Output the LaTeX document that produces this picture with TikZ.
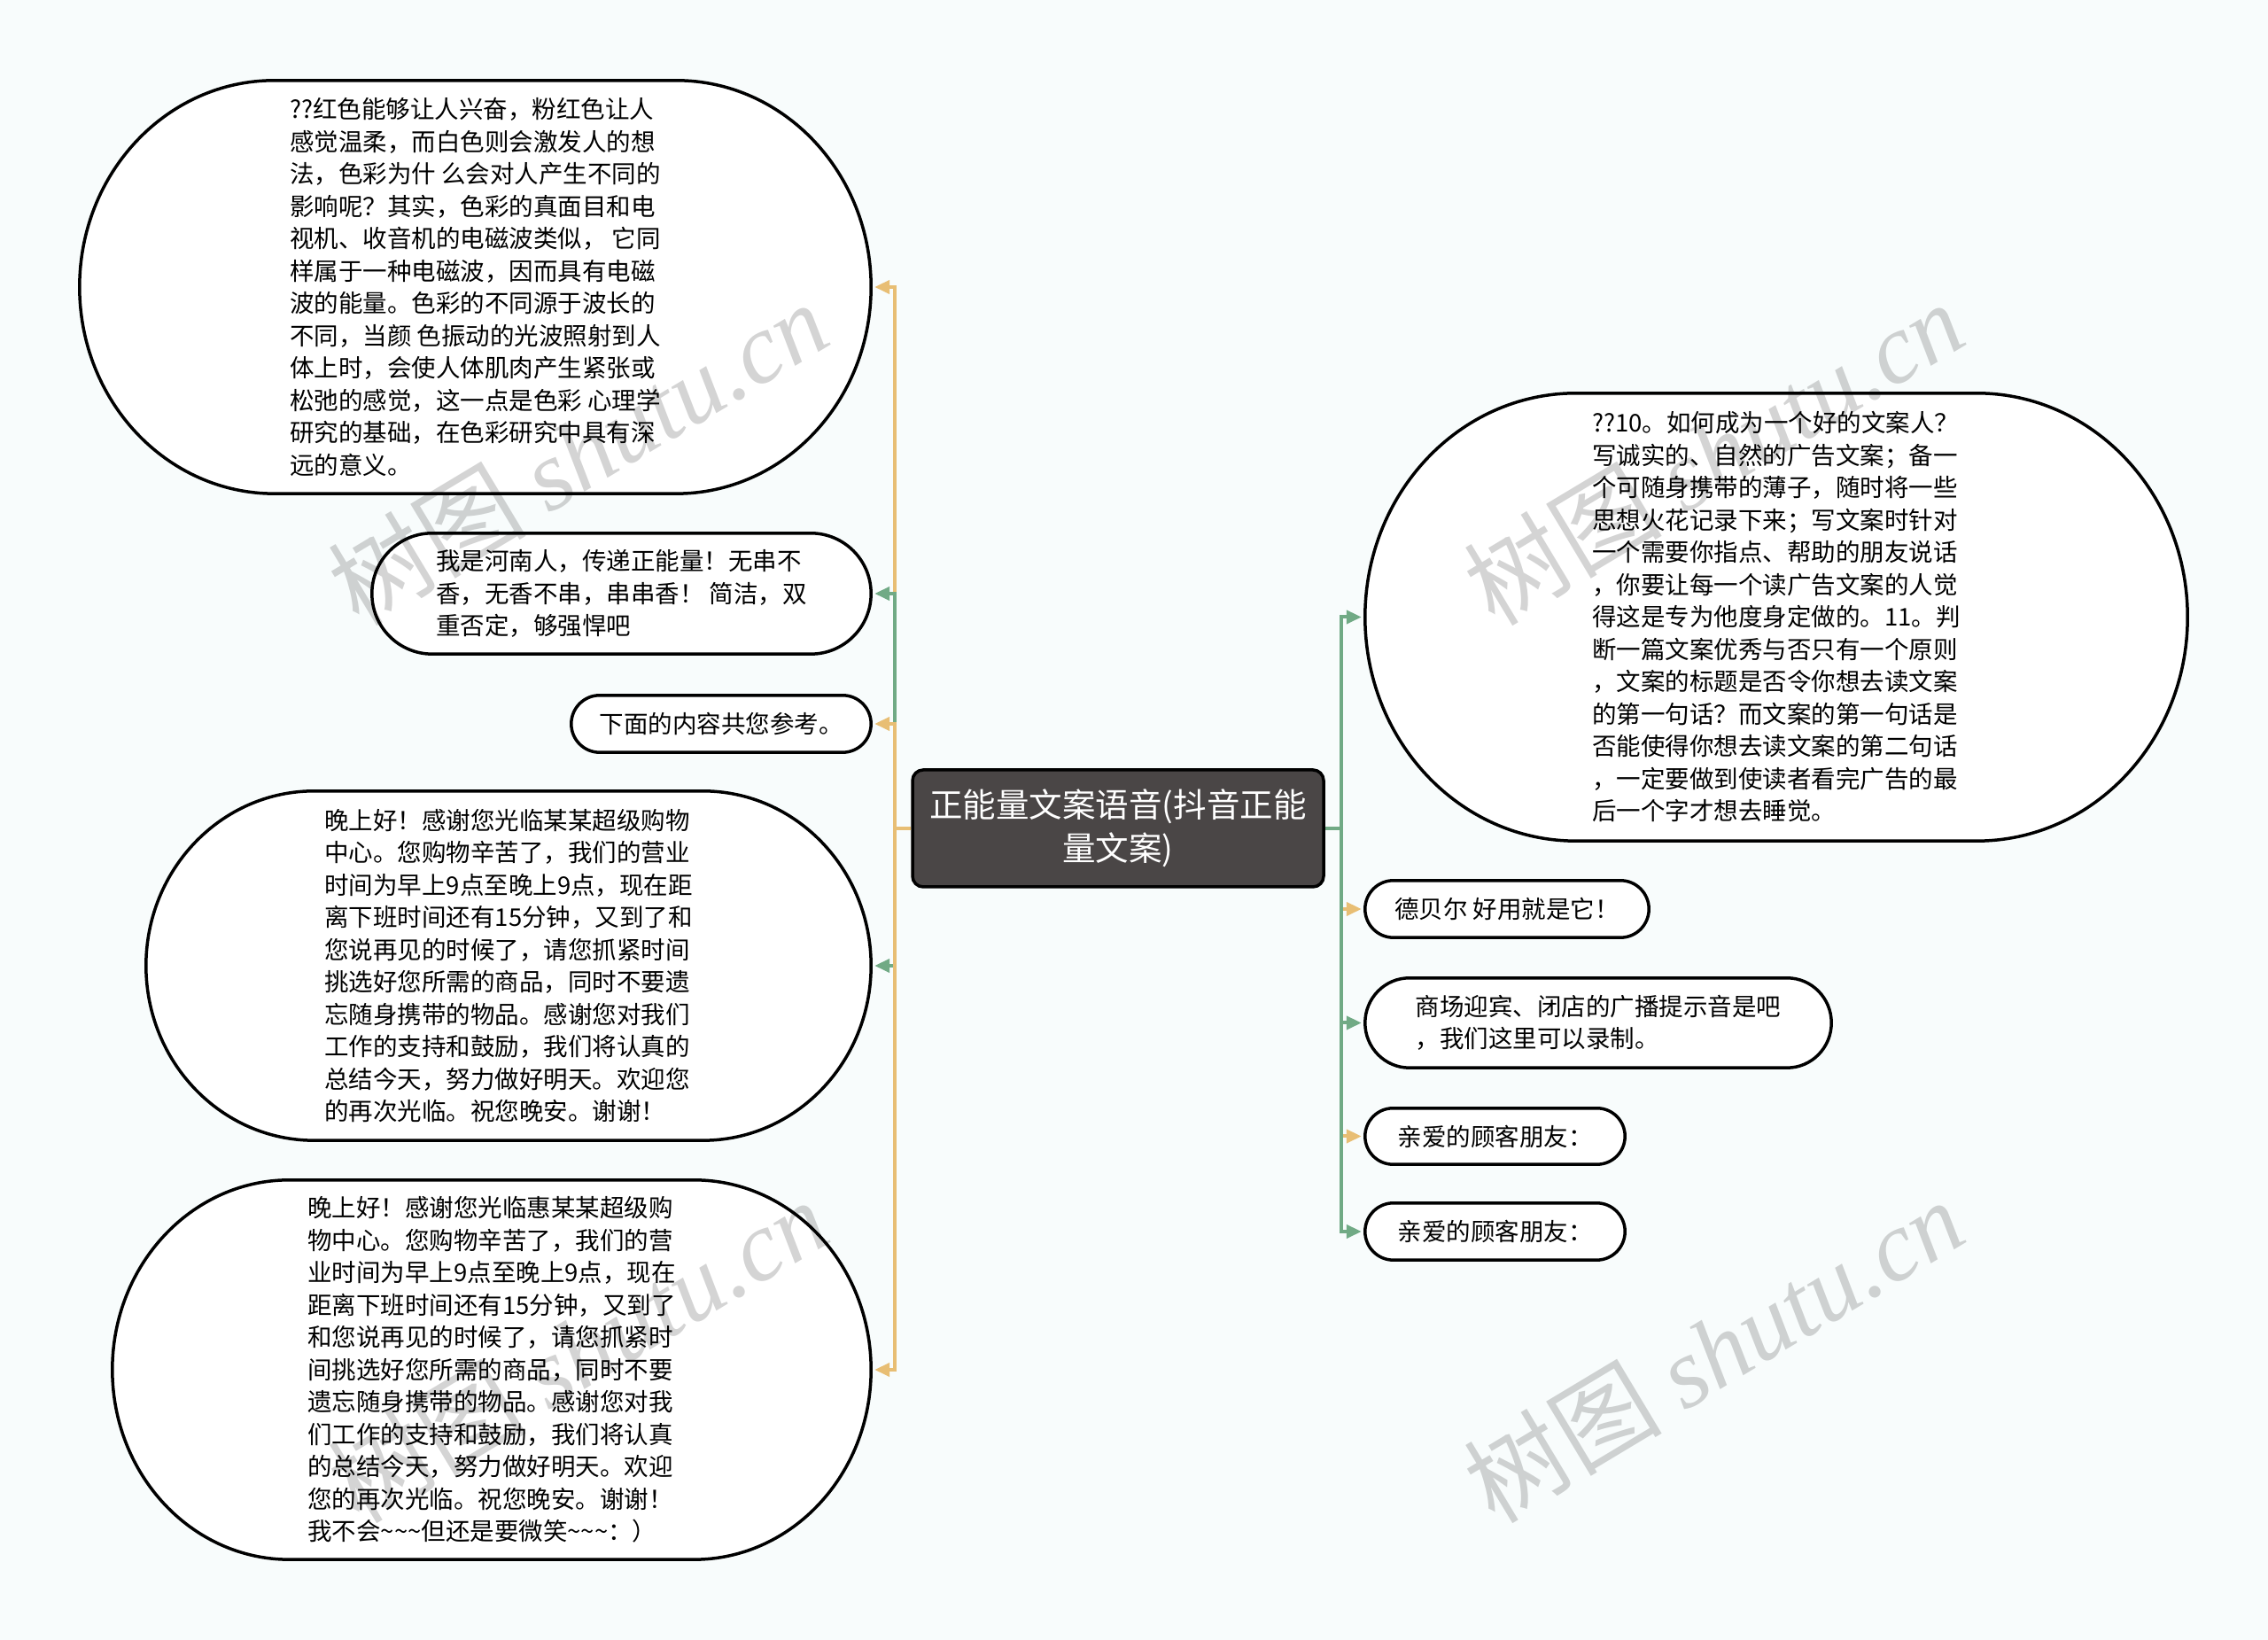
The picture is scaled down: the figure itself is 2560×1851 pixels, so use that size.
\documentclass[tikz,border=0pt]{standalone}
\usepackage{fontspec}
\newfontfamily\cjk{Noto Sans CJK SC}
\newfontfamily\wmserif{Liberation Serif}
\usetikzlibrary{arrows.meta,calc}
\definecolor{bgc}{RGB}{248,252,252}
\definecolor{orangeL}{RGB}{232,190,116}
\definecolor{greenL}{RGB}{113,170,133}
\definecolor{rootfill}{RGB}{74,70,70}
\pgfdeclarelayer{bgl}
\pgfsetlayers{bgl,main}
\tikzset{
  txt/.style={inner sep=0pt, align=left, text=black, font={\cjk\fontsize{27.5}{36.5}\selectfont}},
  pillline/.style={draw=black, line width=3.5pt, fill=white},
  rootbox/.style={draw=black, line width=3.5pt, fill=rootfill, rounded corners=12pt,
    minimum width=464pt, minimum height=132pt, inner sep=0pt, text=white, align=center,
    font={\cjk\fontsize{37.5}{49}\selectfont}},
  conn/.style={line width=4pt, -{Triangle[length=17pt,width=15pt]}, shorten >=4pt},
  og/.style={conn, draw=orangeL},
  gr/.style={conn, draw=greenL},
  wm/.style={text=black, text opacity=0.17, inner sep=0pt, font={\cjk\fontsize{112}{112}\selectfont}}
}
\newcommand\pillout[2]{%
  \begin{pgfonlayer}{bgl}
  \path[pillline] let \p1=(#1.north west), \p2=(#1.south east), \n1={(\y1-\y2)/2} in
    (\x1+#2pt,\y1) -- (\x2-#2pt,\y1)
    arc[start angle=90, end angle=-90, x radius=#2pt, y radius=\n1]
    -- (\x1+#2pt,\y2)
    arc[start angle=270, end angle=90, x radius=#2pt, y radius=\n1] -- cycle;
  \end{pgfonlayer}}
\begin{document}
\begin{tikzpicture}[x=1pt,y=1pt]
\begin{pgfonlayer}{bgl}
\fill[bgc] (0,0) rectangle (2560,1851);
\end{pgfonlayer}
\useasboundingbox (0,0) rectangle (2560,1851);

% root
\node[rootbox] (root) at (1262,916) {正能量文案语音(抖音正能\\量文案)};

% left nodes
\node[txt, minimum width=893pt, minimum height=466pt] (n1) at (536.5,1527) {??红色能够让人兴奋，粉红色让人\\感觉温柔，而白色则会激发人的想\\法，色彩为什 么会对人产生不同的\\影响呢？其实，色彩的真面目和电\\视机、收音机的电磁波类似， 它同\\样属于一种电磁波，因而具有电磁\\波的能量。色彩的不同源于波长的\\不同，当颜 色振动的光波照射到人\\体上时，会使人体肌肉产生紧张或\\松弛的感觉，这一点是色彩 心理学\\研究的基础，在色彩研究中具有深\\远的意义。};
\node[txt, minimum width=563pt, minimum height=136pt] (n2) at (701.5,1181) {我是河南人，传递正能量！无串不\\香，无香不串，串串香！ 简洁，双\\重否定，够强悍吧};
\node[txt, minimum width=338pt, minimum height=64pt] (n3) at (814,1034) {下面的内容共您参考。};
\node[txt, minimum width=818pt, minimum height=394pt] (n4) at (574,761) {晚上好！感谢您光临某某超级购物\\中心。您购物辛苦了，我们的营业\\时间为早上9点至晚上9点，现在距\\离下班时间还有15分钟，又到了和\\您说再见的时候了，请您抓紧时间\\挑选好您所需的商品，同时不要遗\\忘随身携带的物品。感谢您对我们\\工作的支持和鼓励，我们将认真的\\总结今天，努力做好明天。欢迎您\\的再次光临。祝您晚安。谢谢！};
\node[txt, minimum width=856pt, minimum height=428pt] (n5) at (555,305) {晚上好！感谢您光临惠某某超级购\\物中心。您购物辛苦了，我们的营\\业时间为早上9点至晚上9点，现在\\距离下班时间还有15分钟，又到了\\和您说再见的时候了，请您抓紧时\\间挑选好您所需的商品，同时不要\\遗忘随身携带的物品。感谢您对我\\们工作的支持和鼓励，我们将认真\\的总结今天，努力做好明天。欢迎\\您的再次光临。祝您晚安。谢谢！\\我不会\textasciitilde\textasciitilde\textasciitilde 但还是要微笑\textasciitilde\textasciitilde\textasciitilde ：）};

% right nodes
\node[txt, minimum width=928pt, minimum height=505pt] (n6) at (2005,1154.5) {??10。如何成为一个好的文案人？\\写诚实的、自然的广告文案；备一\\个可随身携带的薄子，随时将一些\\思想火花记录下来；写文案时针对\\一个需要你指点、帮助的朋友说话\\，你要让每一个读广告文案的人觉\\得这是专为他度身定做的。11。判\\断一篇文案优秀与否只有一个原则\\，文案的标题是否令你想去读文案\\的第一句话？而文案的第一句话是\\否能使得你想去读文案的第二句话\\，一定要做到使读者看完广告的最\\后一个字才想去睡觉。};
\node[txt, minimum width=320pt, minimum height=64pt] (n7) at (1701,825) {德贝尔 好用就是它！};
\node[txt, minimum width=526pt, minimum height=101pt] (n8) at (1804,696.5) {商场迎宾、闭店的广播提示音是吧\\，我们这里可以录制。};
\node[txt, minimum width=293pt, minimum height=63pt] (n9) at (1687.5,568.5) {亲爱的顾客朋友：};
\node[txt, minimum width=293pt, minimum height=64pt] (n10) at (1687.5,461) {亲爱的顾客朋友：};

% outlines
\pillout{n1}{220}
\pillout{n2}{68}
\pillout{n3}{32}
\pillout{n4}{190}
\pillout{n5}{200}
\pillout{n6}{238}
\pillout{n7}{32}
\pillout{n8}{50}
\pillout{n9}{31.5}
\pillout{n10}{32}

% connectors left
\draw[og] (root.west) -- ++(-18,0) |- (n1.east);
\draw[gr] (root.west) -- ++(-18,0) |- (n2.east);
\draw[og] (root.west) -- ++(-18,0) |- (n3.east);
\draw[gr] (root.west) -- ++(-18,0) |- (n4.east);
\draw[og] (root.west) -- ++(-18,0) |- (n5.east);
% connectors right
\draw[gr] (root.east) -- ++(18,0) |- (n6.west);
\draw[og] (root.east) -- ++(18,0) |- (n7.west);
\draw[gr] (root.east) -- ++(18,0) |- (n8.west);
\draw[og] (root.east) -- ++(18,0) |- (n9.west);
\draw[gr] (root.east) -- ++(18,0) |- (n10.west);

% watermarks
\node[wm, rotate=31] (wm1) at (652,1340) {树图 {\wmserif\itshape shutu.cn}};
\node[wm, rotate=31] (wm2) at (1934,1340) {树图 {\wmserif\itshape shutu.cn}};
\node[wm, rotate=31] (wm3) at (652,327) {树图 {\wmserif\itshape shutu.cn}};
\node[wm, rotate=31] (wm4) at (1934,327) {树图 {\wmserif\itshape shutu.cn}};
\end{tikzpicture}
\end{document}
